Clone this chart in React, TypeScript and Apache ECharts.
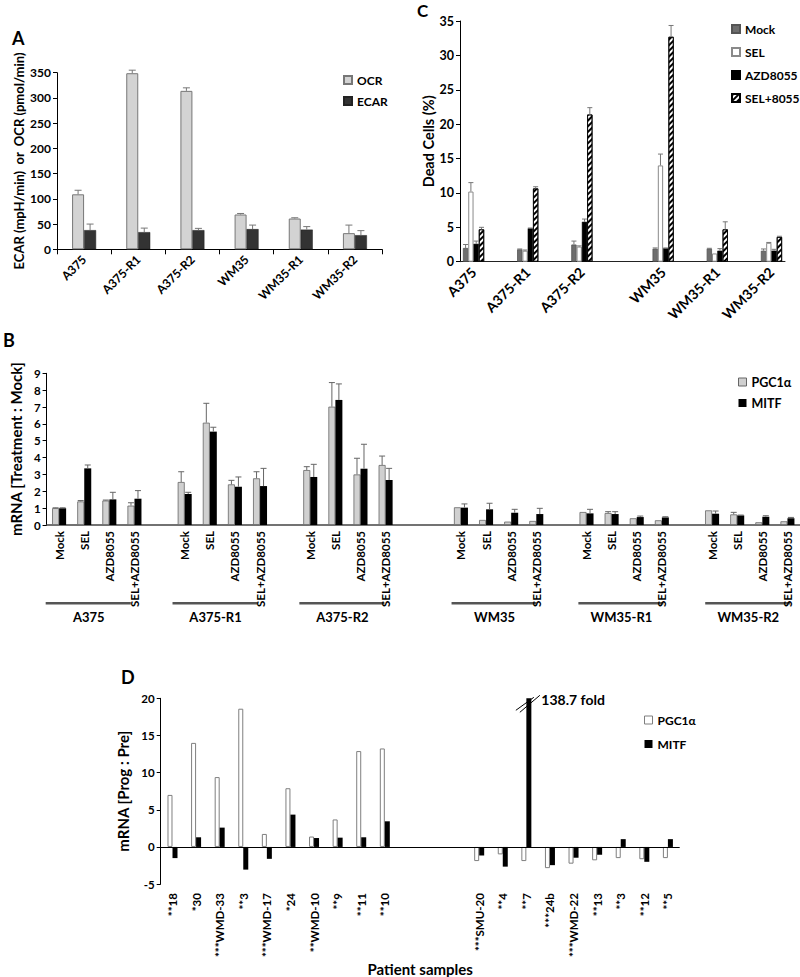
import React, { useEffect, useRef } from 'react';
import * as echarts from 'echarts';

// ---------- Panel A : OCR / ECAR ----------
const aCells = ['A375', 'A375-R1', 'A375-R2', 'WM35', 'WM35-R1', 'WM35-R2'];
const aOcr = [109, 349, 314, 69, 61, 32];
const aOcrSd = [8, 6, 6, 2, 1.5, 16];
const aEcar = [38, 34, 38, 40, 39, 28];
const aEcarSd = [12, 8, 3.5, 8, 6, 9];

// ---------- Panel C : dead cells ----------
const cCells = ['A375', 'A375-R1', 'A375-R2', 'WM35', 'WM35-R1', 'WM35-R2'];
const cTreatments = ['Mock', 'SEL', 'AZD8055', 'SEL+8055'];
const cMock = [2.0, 1.8, 2.5, 1.9, 1.9, 1.6];
const cMockSd = [0.5, 0.05, 0.5, 0.1, 0.05, 0.25];
const cSel = [10.2, 1.6, 2.2, 14.0, 1.2, 2.75];
const cSelSd = [1.3, 0.1, 0.1, 1.65, 0, 0.05];
const cAzd = [2.6, 4.85, 5.8, 1.95, 1.6, 1.6];
const cAzdSd = [0.4, 0.05, 0.4, 0.05, 0.3, 0.2];
const cCombo = [4.7, 10.65, 21.4, 32.7, 4.7, 3.6];
const cComboSd = [0.3, 0.25, 1.0, 1.65, 1.1, 0.1];

// ---------- Panel B : mRNA treatment:mock ----------
const bCells = ['A375', 'A375-R1', 'A375-R2', 'WM35', 'WM35-R1', 'WM35-R2'];
const bTreatments = ['Mock', 'SEL', 'AZD8055', 'SEL+AZD8055'];
const bPgc = [
  [1.0, 1.4, 1.45, 1.15],
  [2.55, 6.07, 2.41, 2.77],
  [3.26, 7.02, 3.0, 3.56],
  [1.05, 0.3, 0.2, 0.24],
  [0.77, 0.71, 0.4, 0.28],
  [0.87, 0.63, 0.16, 0.22],
];
const bPgcSd = [
  [0.02, 0.05, 0.03, 0.17],
  [0.61, 1.15, 0.24, 0.39],
  [0.2, 1.43, 0.96, 0.53],
  [0, 0, 0, 0],
  [0, 0.08, 0, 0],
  [0, 0.12, 0, 0],
];
const bMitf = [
  [1.0, 3.36, 1.52, 1.56],
  [1.84, 5.54, 2.27, 2.31],
  [2.85, 7.42, 3.34, 2.67],
  [1.03, 0.93, 0.73, 0.65],
  [0.69, 0.65, 0.47, 0.45],
  [0.67, 0.57, 0.49, 0.4],
];
const bMitfSd = [
  [0.02, 0.2, 0.42, 0.48],
  [0.1, 0.26, 0.58, 1.05],
  [0.75, 0.95, 1.45, 0.69],
  [0.22, 0.36, 0.2, 0.34],
  [0.24, 0.14, 0.06, 0.04],
  [0.16, 0.02, 0.06, 0.05],
];

// ---------- Panel D : patients ----------
const dPatientsA = ['**18', '*30', '***WMD-33', '**3', '***WMD-17', '*24', '**WMD-10', '**9', '**11', '**10'];
const dPgcA = [7.0, 14.0, 9.4, 18.6, 1.75, 7.9, 1.4, 3.7, 12.9, 13.25];
const dMitfA = [-1.5, 1.3, 2.6, -3.05, -1.6, 4.35, 1.2, 1.25, 1.3, 3.45];
const dPatientsB = ['***SMU-20', '**4', '**7', '***24b', '***WMD-22', '**13', '**3', '**12', '**5'];
const dPgcB = [-1.9, -1.0, -1.9, -2.85, -2.25, -1.8, -1.5, -1.65, -1.5];
const dMitfB = [-1.15, -2.65, 138.7, -2.45, -1.45, -1.05, 1.05, -2.0, 1.05];
const dYMax = 20;

// ---------- styling / layout ----------
const FONT = 'Lato, "Open Sans", sans-serif';
const TXT = { fontFamily: FONT, fontWeight: 'bold' as const, color: '#000' };

const gA = { left: 57, top: 72.7, width: 325, height: 176.6 };
const gC = { left: 460, top: 21, width: 325, height: 240.7 };
const gB = { left: 39, top: 373.3, width: 761, height: 151.7 };
const gD = { left: 160.7, top: 698.3, width: 519, height: 190.4 };

// slot layouts (blank columns between groups)
const C_SLOTS = 12;
const cSlot = (g: number) => g * 2 + (g >= 3 ? 1 : 0);
const B_SLOTS = 30;
const bSlot = (g: number, t: number) => g * 5 + t + (g >= 3 ? 1 : 0);
const D_GAP = 3;
const D_SLOTS = dPatientsA.length + D_GAP + dPatientsB.length;
const dSlotA = (i: number) => i;
const dSlotB = (i: number) => dPatientsA.length + D_GAP + i;

function valueAxis(gridIndex: number, min: number, max: number, interval: number, fontSize: number, name: string, nameGap: number, nameSize: number) {
  return {
    type: 'value', gridIndex, min, max, interval,
    name, nameLocation: 'middle', nameGap,
    nameTextStyle: { ...TXT, fontSize: nameSize },
    axisLine: { show: true, lineStyle: { color: '#000', width: 1 } },
    axisTick: { show: true, length: 4, lineStyle: { color: '#000' } },
    axisLabel: { ...TXT, fontSize, margin: 6 },
    splitLine: { show: false },
  };
}

function errSeries(xi: number, slots: number[], vals: number[], sds: number[], dx: number, cap: number, color: string) {
  return {
    type: 'custom', xAxisIndex: xi, yAxisIndex: xi, silent: true, z: 3,
    data: slots.map((s, i) => [s, vals[i], sds[i]]),
    encode: { x: 0, y: 1 },
    renderItem: (params: any, api: any) => {
      const s = api.value(0), v = api.value(1), e = api.value(2);
      if (!(e > 0)) return { type: 'group', children: [] };
      const p0 = api.coord([s, v]);
      const p1 = api.coord([s, v + e]);
      const x = p0[0] + dx;
      const st = { stroke: color, lineWidth: 1, fill: null };
      return {
        type: 'group', children: [
          { type: 'line', shape: { x1: x, y1: p0[1], x2: x, y2: p1[1] }, style: st },
          { type: 'line', shape: { x1: x - cap, y1: p1[1], x2: x + cap, y2: p1[1] }, style: st },
        ],
      };
    },
  };
}

function fill(n: number) {
  return new Array(n).fill('-') as any[];
}

function buildOption() {
  // ---- Panel A ----
  const aIdx = aCells.map((_, i) => i);
  const aBarW = 12;

  // ---- Panel C ----
  const cAxis = new Array(C_SLOTS).fill('');
  cCells.forEach((c, g) => (cAxis[cSlot(g)] = c));
  const cSlots = cCells.map((_, g) => cSlot(g));
  const cVals = [cMock, cSel, cAzd, cCombo];
  const cSds = [cMockSd, cSelSd, cAzdSd, cComboSd];
  const cStyles: any[] = [
    { color: '#6e6e6e', borderColor: '#555', borderWidth: 0.8 },
    { color: '#fff', borderColor: '#8a8a8a', borderWidth: 1 },
    { color: '#000', borderColor: '#000', borderWidth: 0.5 },
    {
      color: '#fff', borderColor: '#000', borderWidth: 0.8,
      decal: { symbol: 'rect', symbolSize: 1, dashArrayX: [1, 0], dashArrayY: [1.3, 1.5], rotation: -Math.PI / 4, color: '#000' },
    },
  ];
  const cBarW = 5.3;
  const cSeries: any[] = [];
  cTreatments.forEach((t, k) => {
    const d = fill(C_SLOTS);
    cSlots.forEach((s, g) => (d[s] = cVals[k][g]));
    cSeries.push({
      type: 'bar', name: t, xAxisIndex: 1, yAxisIndex: 1, data: d,
      barWidth: cBarW, barGap: '0%', itemStyle: cStyles[k],
    });
  });
  cTreatments.forEach((t, k) => {
    cSeries.push(errSeries(1, cSlots, cVals[k], cSds[k], (k - 1.5) * cBarW, 2.5, '#777'));
  });

  // ---- Panel B ----
  const bAxis = new Array(B_SLOTS).fill('');
  const bSlots: number[] = [];
  const bPgcFlat: number[] = [], bPgcSdFlat: number[] = [], bMitfFlat: number[] = [], bMitfSdFlat: number[] = [];
  const bPgcData = fill(B_SLOTS), bMitfData = fill(B_SLOTS);
  bCells.forEach((_, g) => {
    bTreatments.forEach((t, k) => {
      const s = bSlot(g, k);
      bAxis[s] = t;
      bSlots.push(s);
      bPgcFlat.push(bPgc[g][k]); bPgcSdFlat.push(bPgcSd[g][k]);
      bMitfFlat.push(bMitf[g][k]); bMitfSdFlat.push(bMitfSd[g][k]);
      bPgcData[s] = bPgc[g][k];
      bMitfData[s] = bMitf[g][k];
    });
  });
  const bBarW = 7;

  // ---- Panel D ----
  const dAxis = new Array(D_SLOTS).fill('');
  const dPgcData = fill(D_SLOTS), dMitfData = fill(D_SLOTS);
  const dBreaks: number[] = [];
  dPatientsA.forEach((p, i) => {
    dAxis[dSlotA(i)] = p; dPgcData[dSlotA(i)] = dPgcA[i]; dMitfData[dSlotA(i)] = dMitfA[i];
  });
  dPatientsB.forEach((p, i) => {
    const s = dSlotB(i);
    dAxis[s] = p; dPgcData[s] = dPgcB[i];
    const v = dMitfB[i];
    if (v > dYMax) {
      dBreaks.push(s);
      dMitfData[s] = {
        value: dYMax,
        label: {
          show: true, position: 'top', distance: 0, align: 'left', verticalAlign: 'middle',
          offset: [12.5, 1], formatter: `${v} fold`, ...TXT, fontSize: 14,
        },
      };
    } else dMitfData[s] = v;
  });
  const dBarW = 5;

  // ---- graphics: B group underlines/labels and D axis break ----
  const graphics: any[] = [];
  const bSW = gB.width / B_SLOTS;
  bCells.forEach((c, g) => {
    const c0 = gB.left + (bSlot(g, 0) + 0.5) * bSW;
    const c3 = gB.left + (bSlot(g, 3) + 0.5) * bSW;
    graphics.push({
      type: 'line', shape: { x1: c0 - 6, y1: 603.3, x2: c3 + 3, y2: 603.3 },
      style: { stroke: '#555', lineWidth: 2.5 },
    });
    graphics.push({
      type: 'text', x: (c0 + c3) / 2 - 1, y: 617,
      style: { text: c, font: `bold 13px ${FONT}`, fill: '#000', textAlign: 'center', textVerticalAlign: 'middle' },
    });
  });
  const dSW = gD.width / D_SLOTS;
  dBreaks.forEach((s) => {
    const bx = gD.left + (s + 0.5) * dSW + dBarW / 2;
    const by = gD.top;
    graphics.push({ type: 'line', shape: { x1: bx - 13, y1: by + 12, x2: bx + 5, y2: by - 1 }, style: { stroke: '#000', lineWidth: 1 } });
    graphics.push({ type: 'line', shape: { x1: bx - 9, y1: by + 14, x2: bx + 11, y2: by - 3 }, style: { stroke: '#000', lineWidth: 1 } });
  });

  const legendBase = {
    orient: 'vertical', icon: 'rect', itemWidth: 8, itemHeight: 8, padding: 0,
  };

  return {
    animation: false,
    backgroundColor: '#fff',
    textStyle: { fontFamily: FONT },
    title: [
      { text: 'A', left: 12, top: 29, padding: 0, textStyle: { ...TXT, fontSize: 18 } },
      { text: 'C', left: 417, top: 2, padding: 0, textStyle: { ...TXT, fontSize: 17 } },
      { text: 'B', left: 3, top: 331, padding: 0, textStyle: { ...TXT, fontSize: 18 } },
      { text: 'D', left: 121, top: 668, padding: 0, textStyle: { ...TXT, fontSize: 18 } },
    ],
    legend: [
      { ...legendBase, left: 343, top: 74, itemGap: 9, textStyle: { ...TXT, fontSize: 12 }, data: ['OCR', 'ECAR'] },
      { ...legendBase, left: 731, top: 23, itemGap: 11, textStyle: { ...TXT, fontSize: 12 }, data: cTreatments },
      {
        ...legendBase, left: 738, top: 375.5, itemGap: 8, textStyle: { ...TXT, fontSize: 12.5 },
        data: [
          { name: 'PGC1α', itemStyle: { color: '#d0d0d0', borderColor: '#666', borderWidth: 1 } },
          { name: 'MITF', itemStyle: { color: '#000', borderColor: '#000' } },
        ],
      },
      {
        ...legendBase, left: 644, top: 714, itemGap: 12, textStyle: { ...TXT, fontSize: 12 },
        data: [
          { name: 'PGC1α', itemStyle: { color: '#fff', borderColor: '#7f7f7f', borderWidth: 1 } },
          { name: 'MITF', itemStyle: { color: '#000', borderColor: '#000' } },
        ],
      },
    ],
    grid: [gA, gC, gB, gD].map((g) => ({ ...g, containLabel: false })),
    xAxis: [
      {
        type: 'category', gridIndex: 0, data: aCells,
        axisLine: { show: true, lineStyle: { color: '#000' } },
        axisTick: { show: true, length: 5, lineStyle: { color: '#000' } },
        axisLabel: { ...TXT, fontSize: 12, rotate: 45, margin: 8, interval: 0 },
      },
      {
        type: 'category', gridIndex: 1, data: cAxis,
        axisLine: { show: true, lineStyle: { color: '#222' } },
        axisTick: { show: false },
        axisLabel: { ...TXT, fontSize: 14, rotate: 45, margin: 8, interval: 0 },
      },
      {
        type: 'category', gridIndex: 2, data: bAxis,
        axisLine: { show: true, lineStyle: { color: '#444', width: 1.5 } },
        axisTick: { show: false },
        axisLabel: { ...TXT, fontSize: 11.5, rotate: 90, margin: 6, interval: 0 },
      },
      {
        type: 'category', gridIndex: 3, data: dAxis,
        axisLine: { show: false, onZero: false },
        axisTick: { show: false },
        axisLabel: { ...TXT, fontSize: 11.5, rotate: 90, margin: 9, interval: 0 },
        name: 'Patient samples', nameLocation: 'middle', nameGap: 74,
        nameTextStyle: { ...TXT, fontSize: 15 },
      },
    ],
    yAxis: [
      valueAxis(0, 0, 350, 50, 12, 'ECAR (mpH/min)  or  OCR (pmol/min)', 32, 13),
      valueAxis(1, 0, 35, 5, 12.5, 'Dead Cells (%)', 24, 14.5),
      valueAxis(2, 0, 9, 1, 11.5, 'mRNA [Treatment : Mock]', 21, 15),
      valueAxis(3, -5, 20, 5, 11.5, 'mRNA [Prog : Pre]', 24, 15),
    ],
    series: [
      // A
      {
        type: 'bar', name: 'OCR', xAxisIndex: 0, yAxisIndex: 0, data: aOcr, barWidth: aBarW, barGap: '0%',
        itemStyle: { color: '#d3d3d3', borderColor: '#777', borderWidth: 1 },
      },
      {
        type: 'bar', name: 'ECAR', xAxisIndex: 0, yAxisIndex: 0, data: aEcar, barWidth: aBarW, barGap: '0%',
        itemStyle: { color: '#333', borderColor: '#222', borderWidth: 0.5 },
      },
      errSeries(0, aIdx, aOcr, aOcrSd, -aBarW / 2, 3.5, '#777'),
      errSeries(0, aIdx, aEcar, aEcarSd, aBarW / 2, 3.5, '#777'),
      // C
      ...cSeries,
      // B
      {
        type: 'bar', name: 'PGC1α', xAxisIndex: 2, yAxisIndex: 2, data: bPgcData, barWidth: bBarW, barGap: '0%',
        itemStyle: { color: '#d0d0d0', borderColor: '#666', borderWidth: 0.8 },
      },
      {
        type: 'bar', name: 'MITF', xAxisIndex: 2, yAxisIndex: 2, data: bMitfData, barWidth: bBarW, barGap: '0%',
        itemStyle: { color: '#000' },
      },
      errSeries(2, bSlots, bPgcFlat, bPgcSdFlat, -bBarW / 2, 3, '#666'),
      errSeries(2, bSlots, bMitfFlat, bMitfSdFlat, bBarW / 2, 3, '#666'),
      // D
      {
        type: 'bar', name: 'PGC1α', xAxisIndex: 3, yAxisIndex: 3, data: dPgcData, barWidth: dBarW, barGap: '0%',
        itemStyle: { color: '#fff', borderColor: '#7f7f7f', borderWidth: 1 },
        markLine: {
          silent: true, symbol: ['none', 'none'], label: { show: false },
          lineStyle: { color: '#000', width: 1, type: 'solid' }, data: [{ yAxis: 0 }],
        },
      },
      {
        type: 'bar', name: 'MITF', xAxisIndex: 3, yAxisIndex: 3, data: dMitfData, barWidth: dBarW, barGap: '0%',
        itemStyle: { color: '#000' },
      },
    ],
    graphic: { elements: graphics },
  };
}

export default function App() {
  const ref = useRef<HTMLDivElement>(null);
  useEffect(() => {
    if (!ref.current) return;
    const chart = echarts.init(ref.current, undefined, { renderer: 'svg' });
    chart.setOption(buildOption() as any);
    return () => chart.dispose();
  }, []);
  return <div ref={ref} style={{ position: 'absolute', left: 0, top: 0, width: 800, height: 977 }} />;
}
